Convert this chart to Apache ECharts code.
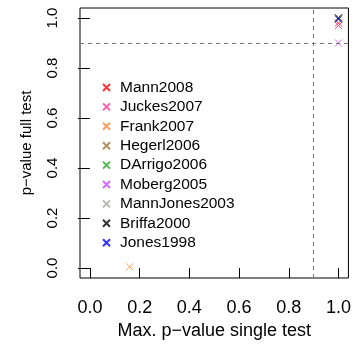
<!DOCTYPE html>
<html>
<head>
<meta charset="utf-8">
<script src="https://cdn.jsdelivr.net/npm/echarts@6/dist/echarts.min.js"></script>
<style>
html, body { margin: 0; padding: 0; background: #fff; }
#chart { width: 354px; height: 348px; }
</style>
</head>
<body>
<div id="chart"></div>
<script>
// reconstructions, in legend order
var names = ['Mann2008', 'Juckes2007', 'Frank2007', 'Hegerl2006', 'DArrigo2006',
             'Moberg2005', 'MannJones2003', 'Briffa2000', 'Jones1998'];
var colors = ['#ff0000', '#ff3399', '#ff8833', '#a07830', '#22aa22',
              '#cc44ff', '#a8a498', '#000000', '#0000ff'];
// max p-value single test
var xValues = [1.0, 1.0, 0.16, 1.0, 1.0, 1.0, 1.0, 1.0, 1.0];
// p-value full test
var yValues = [0.98, 0.97, 0.005, 1.0, 1.0, 0.9, 1.0, 1.0, 0.995];
var ticks = [0, 0.2, 0.4, 0.6, 0.8, 1.0];
var cutoff = 0.9;

var cross = 'path://M0,0L10,10M10,0L0,10';
var font = 'Liberation Sans, Arial, sans-serif';

var series = names.map(function (n, i) {
    return {
        name: n,
        type: 'scatter',
        symbol: cross,
        symbolSize: 7,
        clip: false,
        itemStyle: { color: 'none', borderColor: colors[i], borderWidth: 1 },
        data: [[xValues[i], yValues[i]]]
    };
});
// dashed reference lines at the cutoff
series.push({
    type: 'line',
    data: [],
    silent: true,
    markLine: {
        symbol: 'none',
        silent: true,
        label: { show: false },
        lineStyle: { color: '#777', type: [4, 4], width: 1 },
        data: [{ xAxis: cutoff }, { yAxis: cutoff }]
    }
});

var myChart = echarts.init(document.getElementById('chart'));
var option = {
    animation: false,
    grid: {
        left: 80, right: 4, top: 8, bottom: 70,
        show: true, borderColor: '#000', borderWidth: 1
    },
    legend: {
        orient: 'vertical',
        left: 95.5, top: 74.5,
        itemWidth: 7, itemHeight: 7,
        itemGap: 3.4,
        data: names,
        textStyle: { fontFamily: font, fontSize: 15.5, color: '#000', lineHeight: 15, padding: [0, 0, 0, 5] }
    },
    xAxis: {
        type: 'value',
        min: -0.04, max: 1.04,
        name: 'Max. p\u2212value single test',
        nameLocation: 'middle',
        nameGap: 44,
        nameMoveOverlap: false,
        nameTextStyle: { fontFamily: font, fontSize: 18, color: '#000' },
        splitLine: { show: false },
        axisLine: { show: false },
        axisTick: { show: true, length: 10, customValues: ticks, lineStyle: { color: '#000' } },
        axisLabel: {
            customValues: ticks, margin: 21.5,
            fontFamily: font, fontSize: 18, color: '#000',
            formatter: function (v) { return v.toFixed(1); }
        }
    },
    yAxis: {
        type: 'value',
        min: -0.04, max: 1.04,
        name: 'p\u2212value full test',
        nameLocation: 'middle',
        nameGap: 46,
        nameMoveOverlap: false,
        nameTextStyle: { fontFamily: font, fontSize: 15, color: '#000' },
        splitLine: { show: false },
        axisLine: { show: false },
        axisTick: { show: true, length: 12, customValues: ticks, lineStyle: { color: '#000' } },
        axisLabel: {
            customValues: ticks, margin: 27, rotate: 90,
            align: 'center', verticalAlign: 'middle',
            fontFamily: font, fontSize: 15, color: '#000',
            formatter: function (v) { return v.toFixed(1); }
        }
    },
    series: series
};
myChart.setOption(option);
</script>
</body>
</html>
